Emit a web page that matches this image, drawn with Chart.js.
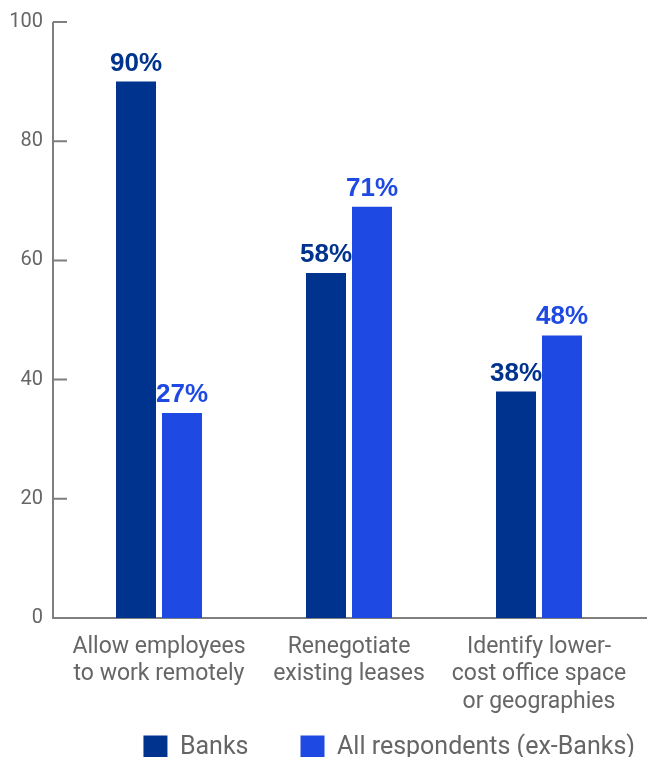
<!DOCTYPE html>
<html>
<head>
<meta charset="utf-8">
<script src="https://cdn.jsdelivr.net/npm/chart.js@4.4.1/dist/chart.umd.min.js"></script>
<style>
    html, body { margin: 0; padding: 0; background: #fff; overflow: hidden; }
    #wrap { width: 647px; height: 812px; }
</style>
</head>
<body>
<div id="wrap"><canvas id="chart"></canvas></div>
<script>
const categories = [
    ["Allow employees", "to work remotely"],
    ["Renegotiate", "existing leases"],
    ["Identify lower-", "cost office space", "or geographies"]
];
const seriesNames = ["Banks", "All respondents (ex-Banks)"];
const banksValues = [90, 57.9, 38];
const allValues = [34.4, 69, 47.4];
const banksLabels = ["90%", "58%", "38%"];
const allLabels = ["27%", "71%", "48%"];
const yTicks = [0, 20, 40, 60, 80, 100];
const seriesColors = ["#00338D", "#1E49E2"];

// axis drawn a bit left of the plot, ticks pointing inward
const axisLines = {
    id: "axisLines",
    beforeDatasetsDraw(chart) {
        const { ctx, chartArea } = chart;
        const y = chart.scales.y;
        const x0 = chartArea.left - 11;
        ctx.save();
        ctx.strokeStyle = "#7f7f7f";
        ctx.lineWidth = 2;
        ctx.beginPath();
        ctx.moveTo(x0, chartArea.top);
        ctx.lineTo(x0, chartArea.bottom);
        ctx.lineTo(chart.width, chartArea.bottom);
        yTicks.forEach(v => {
            const py = y.getPixelForValue(v);
            ctx.moveTo(x0, py);
            ctx.lineTo(x0 + 14, py);
        });
        ctx.stroke();
        ctx.restore();
    }
};

const valueLabels = {
    id: "valueLabels",
    afterDatasetsDraw(chart) {
        const { ctx } = chart;
        const texts = [banksLabels, allLabels];
        ctx.save();
        ctx.font = "bold 26px 'Liberation Sans', Arial, sans-serif";
        ctx.textAlign = "center";
        ctx.textBaseline = "alphabetic";
        chart.data.datasets.forEach((ds, i) => {
            ctx.fillStyle = seriesColors[i];
            chart.getDatasetMeta(i).data.forEach((bar, j) => {
                ctx.fillText(texts[i][j], bar.x, bar.y - 11);
            });
        });
        ctx.restore();
    }
};

// legend sits off-centre towards the right and tucks up under the labels
const legendShift = {
    id: "legendShift",
    afterLayout(chart) {
        const lg = chart.legend;
        lg.left += 53;
        lg.right += 53;
        lg.top -= 42;
        lg.bottom -= 42;
    }
};

const ctx = document.getElementById("chart").getContext("2d");
new Chart(ctx, {
    type: "bar",
    data: {
        labels: categories,
        datasets: [
            {
                label: seriesNames[0],
                data: banksValues,
                backgroundColor: seriesColors[0],
                categoryPercentage: 0.4842,
                barPercentage: 0.8696
            },
            {
                label: seriesNames[1],
                data: allValues,
                backgroundColor: seriesColors[1],
                categoryPercentage: 0.4842,
                barPercentage: 0.8696
            }
        ]
    },
    options: {
        responsive: true,
        maintainAspectRatio: false,
        animation: false,
        layout: { autoPadding: false, padding: { top: 22, left: 0, right: 13, bottom: 0 } },
        plugins: {
            tooltip: { enabled: false },
            legend: {
                position: "bottom",
                align: "end",
                labels: {
                    boxWidth: 24,
                    boxHeight: 24,
                    padding: 52,
                    color: "#666",
                    font: { family: "Roboto", size: 25 }
                }
            }
        },
        scales: {
            x: {
                grid: { display: false, drawTicks: false },
                border: { display: false },
                ticks: {
                    color: "#666",
                    padding: 15,
                    maxRotation: 0,
                    font: { family: "Roboto", size: 23, lineHeight: 1.2 }
                },
                afterFit(s) {
                    s.height = 107;
                }
            },
            y: {
                min: 0,
                max: 100,
                grid: { display: false, drawTicks: false },
                border: { display: false },
                ticks: {
                    stepSize: 20,
                    color: "#666",
                    padding: 21,
                    font: { family: "Roboto", size: 20 }
                },
                afterFit(s) {
                    s.width = 64;
                    s.paddingTop = 0;
                    s.paddingBottom = 0;
                }
            }
        }
    },
    plugins: [axisLines, valueLabels, legendShift]
});
</script>
</body>
</html>
